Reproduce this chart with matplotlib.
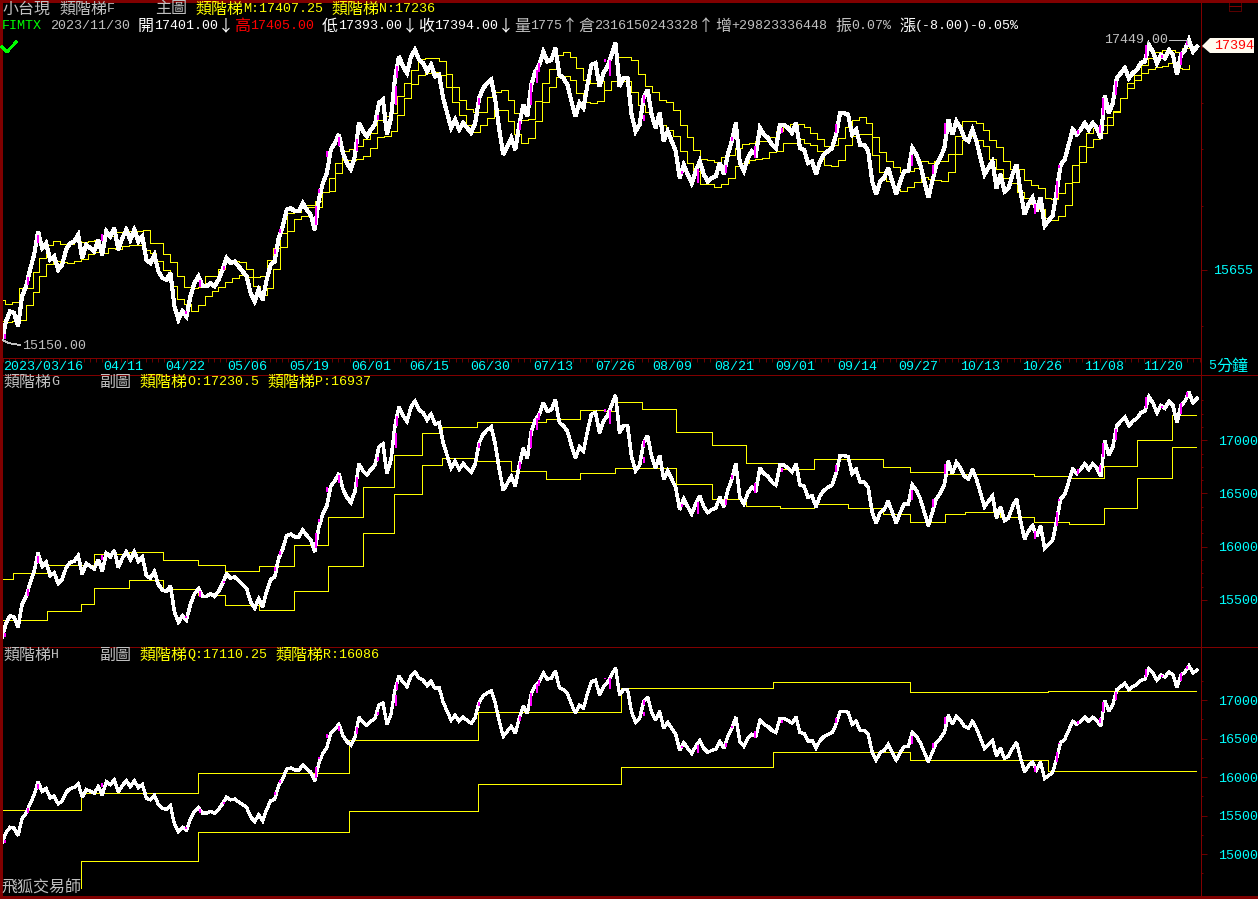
import numpy as np
from matplotlib import pyplot as plt
from matplotlib.lines import Line2D
from matplotlib.patches import Polygon, Rectangle
from matplotlib.ticker import NullLocator, FixedLocator, NullFormatter

W, H = 1258, 899
RED = '#800000'
CYAN = '#00FFFF'
YELLOW = '#FFFF00'
GRAY = '#C0C0C0'
WHITE = '#FFFFFF'

price = [
	15145, 15278, 15350, 15338, 15242, 15459, 15533, 15655, 15766, 15940, 15816, 15853, 15729, 15754, 15655, 15692,
	15804, 15853, 15865, 15915, 15741, 15841, 15816, 15791, 15878, 15766, 15940, 15903, 15965, 15804, 15891, 15953,
	15878, 15953, 15865, 15903, 15729, 15704, 15766, 15643, 15594, 15581, 15631, 15387, 15290, 15350, 15313, 15459,
	15557, 15606, 15533, 15533, 15557, 15533, 15581, 15655, 15741, 15704, 15716, 15680, 15643, 15606, 15483, 15423,
	15509, 15434, 15581, 15692, 15716, 15891, 15978, 16105, 16118, 16092, 16092, 16155, 16105, 16065, 15953, 16180,
	16307, 16384,
	16568, 16620, 16687, 16543, 16464, 16415, 16517, 16778, 16713, 16673, 16726, 16765, 16937, 16964, 16687, 16818,
	17137, 17313, 17232, 17178, 17313, 17367, 17286, 17259, 17191, 17245, 17151, 17165, 16977, 16857, 16739, 16804,
	16726, 16778, 16739, 16700, 16778, 16977, 17057, 17097, 17124, 16964, 16726, 16530, 16594, 16660, 16568, 16765,
	16924, 16831, 17084, 17191, 17245, 17353, 17272, 17286, 17381, 17165, 17137, 17084, 16950, 16831, 16937, 16897,
	17084, 17245, 17259, 17070, 17178, 17232, 17326, 17422, 17070, 17137, 17137,
	16844, 16713, 16765, 16977, 17043, 16844, 16739, 16857, 16635, 16713, 16635, 16557, 16348, 16450, 16376, 16309,
	16401, 16477, 16376, 16322, 16348, 16363, 16464, 16376, 16530, 16635, 16778, 16464, 16401, 16505, 16557, 16530,
	16739, 16687, 16660, 16607, 16580, 16765, 16765, 16739, 16700, 16778, 16580, 16568, 16464, 16477, 16376, 16477,
	16530, 16557, 16580, 16687, 16857, 16857, 16844, 16687, 16726, 16607, 16607, 16557, 16322, 16223, 16322, 16348,
	16428, 16322, 16223, 16322, 16401, 16401, 16580, 16530, 16450, 16322, 16197, 16322, 16450, 16505, 16580, 16804,
	16687, 16791, 16739, 16660, 16635, 16726, 16635, 16505, 16376, 16428, 16477, 16270, 16376, 16244, 16270, 16376,
	16450, 16244, 16071, 16148, 16197, 16097, 16197, 15983, 16022, 16059, 16244, 16450, 16490, 16607, 16726, 16687,
	16726, 16778, 16726, 16778, 16739, 16660, 16997, 16857, 16937, 17137, 17178, 17218, 17137, 17178, 17205, 17259,
	17272, 17408, 17353, 17259, 17326, 17300, 17367, 17326, 17165, 17326, 17367, 17449, 17353, 17394,
]

# up bars drawn in magenta
mag_bars = [5, 28, 38, 102, 186, 200, 224, 275, 280, 316, 319, 327, 339, 357, 378, 396, 397, 479, 520, 531, 537, 539,
	605, 610, 644, 644, 682, 698, 726, 732, 755, 782, 836, 912, 933, 945, 1035, 1057, 1059, 1078, 1100, 1103, 1116,
	1146, 1162, 1181, 1187]
mag_low = [15150, 15540, 15850, 15870, 15330, 15530, 15655, 15770, 15925, 15990, 16235, 16510, 16600, 16557, 16804,
	16924, 17137, 16924, 16726, 16924, 17097, 17190, 17270, 17151, 16937, 16790, 16376, 16309, 16389, 16635, 16505,
	16700, 16700, 16437, 16376, 16687, 16071, 16197, 16428, 16687, 16700, 16844, 17000, 17300, 17300, 17245, 17408]
mag_high = [15190, 15600, 15910, 15920, 15350, 15580, 15680, 15810, 15960, 16130, 16260, 16560, 16670, 16650, 16844,
	17070, 17232, 16977, 16791, 17097, 17205, 17259, 17290, 17285, 17000, 16844, 16401, 16415, 16450, 16670, 16594,
	16740, 16770, 16530, 16450, 16778, 16146, 16322, 16450, 16726, 16765, 16977, 17110, 17408, 17326, 17353, 17449]

# main chart ladders, one value per step
ladder_m = [
	15434, 15406, 15415, 15520, 15520, 15638, 15741, 15838, 15865, 15848, 15848, 15865, 15858, 15865, 15873, 15903,
	15908, 15933, 15933, 15940, 15940, 15948, 15853, 15853, 15774, 15709, 15606, 15528, 15520, 15528, 15606, 15606,
	15662, 15729, 15721, 15709, 15660, 15598, 15606, 15729, 15816, 15928, 16079, 16087, 16142, 16142, 16168, 16243,
	16348, 16464, 16557, 16572, 16594, 16654, 16700, 16804, 16836, 16857, 16991, 17097, 17205, 17295, 17300, 17300,
	17278, 17062, 17062, 16957, 16889, 16865, 16865, 16988, 17025, 17041, 16957, 16857, 16804, 16813, 16952, 17097,
	17212, 17326, 17348, 17308, 17218, 17124, 17097, 17110, 17043, 17110, 17308, 17308,
	17284, 17170, 17070, 17025, 16960, 16942, 16881, 16762, 16668, 16564, 16498, 16490, 16472, 16511, 16525, 16580,
	16615, 16620, 16635, 16635, 16668, 16718, 16751, 16770, 16770, 16746, 16700, 16652, 16594, 16604, 16657, 16746,
	16804, 16826, 16778, 16668, 16551, 16482, 16432, 16396, 16401, 16428, 16477, 16464, 16477, 16477, 16535,
	16673, 16791, 16796, 16778, 16723, 16642, 16591, 16482, 16415, 16415, 16330, 16296, 16270, 16197, 16184, 16232,
	16309, 16450, 16594, 16700, 16739, 16765, 16826, 16870, 16977, 17097, 17165, 17240, 17300, 17353, 17367, 17362,
	17353, 17381, 17402,
]
ladder_n = [
	15278, 15273, 15280, 15288, 15395, 15490, 15611, 15697, 15721, 15711, 15704, 15721, 15734, 15772, 15788, 15780,
	15819, 15809, 15829, 15838, 15838, 15798, 15780, 15716, 15655, 15533, 15439, 15406, 15352, 15395, 15459, 15501,
	15528, 15562, 15594, 15618, 15601, 15533, 15471, 15520, 15660, 15821, 15940, 16033, 16059, 16129, 16129, 16243,
	16246, 16389, 16490, 16490, 16495, 16522, 16580, 16668, 16673, 16718, 16844, 16977, 17089, 17165, 17178, 17186,
	17159, 17170, 16945, 16844, 16765, 16707, 16759, 16818, 16881, 16881, 16791, 16687, 16620, 16660, 16794, 16945,
	17067, 17145, 17151, 17124, 17017, 16942, 16937, 16952, 17043, 17110, 17110, 17110,
	17025, 16921, 16865, 16772, 16765, 16726, 16673, 16557, 16464, 16401, 16301, 16301, 16275, 16304, 16348, 16440,
	16464, 16490, 16498, 16503, 16551, 16557, 16620, 16620, 16654, 16620, 16607, 16557, 16445, 16437, 16487, 16604,
	16673, 16687, 16687, 16530, 16396, 16322, 16262, 16249, 16275, 16317, 16356, 16340, 16335, 16322, 16396,
	16535, 16644, 16673, 16647, 16594, 16495, 16415, 16348, 16309, 16240, 16192, 16150, 16112, 16041, 16027, 16057,
	16142, 16317, 16472, 16588, 16652, 16700, 16765, 16865, 16977, 17057, 17124, 17178, 17210, 17226, 17237, 17262,
	17218, 17210, 17240,
]

# sub chart G ladders
g_breaks = [2, 13, 47, 81, 94, 129, 163, 198, 225, 259, 294, 328, 363, 394, 422, 442, 477, 511, 546, 580, 604, 615,
	642, 676, 712, 746, 780, 814, 848, 883, 910, 945, 965, 1000, 1034, 1069, 1104, 1137, 1172, 1196]
ladder_o = [15695, 15751, 15827, 15827, 15931, 15950, 15874, 15827, 15770, 15817, 16016, 16280, 16563, 16865, 17072,
	17129, 17176, 17167, 17195, 17280, 17277, 17355, 17289, 17082, 16959, 16789, 16733, 16827, 16827, 16751, 16704,
	16685, 16685, 16685, 16667, 16648, 16761, 17006, 17233, 17233]
ladder_p = [15308, 15308, 15393, 15459, 15616, 15685, 15600, 15544, 15449, 15402, 15581, 15817, 16129, 16494, 16770,
	16836, 16808, 16714, 16638, 16695, 16695, 16735, 16742, 16591, 16450, 16383, 16365, 16402, 16365, 16308, 16232,
	16308, 16327, 16280, 16232, 16214, 16365, 16648, 16940, 16940]

# sub chart H ladders
q_breaks = [2, 81, 198, 349, 478, 621, 773, 910, 1048, 1196]
ladder_q = [15573, 15795, 16056, 16487, 16852, 17152, 17230, 17100, 17113, 17113]
r_breaks = [81, 81, 198, 349, 478, 621, 773, 910, 1048, 1196]
ladder_r = [14564, 14908, 15286, 15560, 15912, 16130, 16326, 16226, 16078, 16078]

date_bars = [3, 103, 165, 227, 289, 351, 409, 470, 533, 595, 652, 714, 775, 837, 898, 960, 1022, 1084, 1143]
date_labels = ['2023/03/16', '04/11', '04/22', '05/06', '05/19', '06/01', '06/15', '06/30', '07/13', '07/26', '08/09',
	'08/21', '09/01', '09/14', '09/27', '10/13', '10/26', '11/08', '11/20']

main_major = [15655]
main_minor = [15243, 16136, 16571, 16939, 17392]
g_major = [15500, 16000, 16500, 17000]
g_minor = [15625, 15750, 15875, 16125, 16250, 16375, 16625, 16750, 16875, 17125, 17250, 17375]
h_major = [15000, 15500, 16000, 16500, 17000]
h_minor = [14750, 15250, 15750, 16250, 16750, 17250]


def add_axes(fig, top, bottom):
	ax = fig.add_axes([1 / W, 1 - bottom / H, 1200 / W, (bottom - top) / H])
	ax.set_facecolor('black')
	ax.patch.set_alpha(0)
	for s in ax.spines.values():
		s.set_visible(False)
	ax.set_xlim(1, 1201)
	ax.xaxis.set_major_locator(NullLocator())
	return ax


def draw_prices(ax, x, lw):
	ax.plot(x, price, color=WHITE, lw=lw, solid_joinstyle='miter', antialiased=False)
	ax.vlines(mag_bars, mag_low, mag_high, color='#FF00FF', lw=1.3, antialiased=False)


def draw_ladder(ax, x, y):
	ax.step(x, y, where='post', color=YELLOW, lw=0.5, antialiased=False)


def set_ticks(ax, major, minor, pad):
	ax.yaxis.tick_right()
	ax.yaxis.set_major_locator(FixedLocator(major))
	ax.yaxis.set_minor_locator(FixedLocator(minor))
	ax.yaxis.set_major_formatter(plt.FixedFormatter([str(v) for v in major]))
	ax.yaxis.set_minor_formatter(NullFormatter())
	ax.tick_params(axis='y', which='major', length=4, width=0.6, color=RED, labelcolor=CYAN, pad=pad, labelsize=LATIN)
	ax.tick_params(axis='y', which='minor', length=1.2, width=0.6, color=RED)
	for lab in ax.get_yticklabels():
		lab.set_family(MONO)


LATIN = 9.6
CJK = 11.5
MONO = ['Liberation Mono', 'DejaVu Sans Mono']
HAN = ['Noto Sans CJK TC', 'DejaVu Sans']


def put(fig, x, y, s, color):
	# 8 px per latin char, 16 px per full width char, like the bitmap font of the original
	run = ''
	wide = None
	start = x
	for ch in s + '\0':
		w = ord(ch) > 0x2000
		if ch == '\0' or (wide is not None and w != wide):
			fig.text(start / W, 1 - y / H, run, color=color, va='center', ha='left',
				family=HAN if wide else MONO, fontsize=CJK if wide else LATIN)
			start += len(run) * (16 if wide else 8)
			run = ''
		run += ch
		wide = w


def frame(fig, xs, ys, color=RED, lw=0.6):
	fig.add_artist(Line2D([v / W for v in xs], [1 - v / H for v in ys], color=color, lw=lw, antialiased=False))


if __name__ == "__main__":
	plt.rcParams['axes.unicode_minus'] = False
	fig = plt.figure(figsize=(W / 100, H / 100), dpi=100, facecolor='black')

	bars = np.linspace(2, 1197, len(price))
	step_w = (1196 - 5) / (len(ladder_m) - 1)
	step_x = [0] + [5 + i * step_w for i in range(len(ladder_m) - 1)]

	ax1 = add_axes(fig, 2, 357)
	ax1.set_yscale('log')
	ax1.set_ylim(15023, 17764)
	draw_ladder(ax1, step_x, ladder_m)
	draw_ladder(ax1, step_x, ladder_n)
	draw_prices(ax1, bars, 2.2)
	set_ticks(ax1, main_major, main_minor, 5)

	ax2 = add_axes(fig, 375, 647)
	ax2.set_ylim(15057, 17613)
	draw_ladder(ax2, g_breaks, ladder_o)
	draw_ladder(ax2, g_breaks, ladder_p)
	draw_prices(ax2, bars, 1.8)
	set_ticks(ax2, g_major, g_minor, 8)

	ax3 = add_axes(fig, 647, 897)
	ax3.set_ylim(14443, 17691)
	draw_ladder(ax3, q_breaks, ladder_q)
	draw_ladder(ax3, r_breaks, ladder_r)
	draw_prices(ax3, bars, 1.6)
	set_ticks(ax3, h_major, h_minor, 8)

	# date band between main and sub charts
	band = add_axes(fig, 358, 374)
	band.set_ylim(0, 1)
	band.yaxis.set_major_locator(NullLocator())
	band.xaxis.set_minor_locator(FixedLocator(np.arange(3, 1201, 6.2)))
	band.tick_params(axis='x', which='minor', top=True, bottom=False, direction='in', length=3, width=0.6, color=RED)
	for b, lab in zip(date_bars, date_labels):
		band.text(b, 0.42, lab, color=CYAN, family=MONO, fontsize=LATIN, ha='left', va='center')

	# frame
	frame(fig, [0, W], [0.5, 0.5], lw=1.0)
	frame(fig, [0.5, 0.5], [0, 897], lw=1.0)
	frame(fig, [1201, 1201], [0, 897])
	frame(fig, [0, 1201], [357.5, 357.5])
	frame(fig, [0, W], [374.5, 374.5])
	frame(fig, [0, W], [647, 647])
	frame(fig, [0, W], [897, 897], lw=1.0)

	# header text
	put(fig, 3, 9, '小台現 類階梯F', GRAY)
	put(fig, 155, 9, '主圖', GRAY)
	put(fig, 195, 9, '類階梯M:17407.25', YELLOW)
	put(fig, 331, 9, '類階梯N:17236', YELLOW)
	put(fig, 2, 26, 'FIMTX', '#00FF00')
	put(fig, 50, 26, '2023/11/30', GRAY)
	put(fig, 138, 26, '開17401.00↓', WHITE)
	put(fig, 234, 26, '高17405.00', '#FF0000')
	put(fig, 322, 26, '低17393.00↓', WHITE)
	put(fig, 418, 26, '收17394.00↓', WHITE)
	put(fig, 514, 26, '量1775↑', GRAY)
	put(fig, 578, 26, '倉2316150243328↑', GRAY)
	put(fig, 715, 26, '增+29823336448', GRAY)
	put(fig, 835, 26, '振0.07%', GRAY)
	put(fig, 899, 26, '漲(-8.00)-0.05%', WHITE)

	put(fig, 3, 382, '類階梯G', GRAY)
	put(fig, 99, 382, '副圖', GRAY)
	put(fig, 139, 382, '類階梯O:17230.5', YELLOW)
	put(fig, 267, 382, '類階梯P:16937', YELLOW)

	put(fig, 3, 655, '類階梯H', GRAY)
	put(fig, 99, 655, '副圖', GRAY)
	put(fig, 139, 655, '類階梯Q:17110.25', YELLOW)
	put(fig, 275, 655, '類階梯R:16086', YELLOW)

	put(fig, 2, 888, '飛狐交易師', GRAY)
	put(fig, 1208, 366, '5分鐘', CYAN)

	# high / low markers
	put(fig, 1104, 40, '17449.00', GRAY)
	frame(fig, [1169, 1187, 1187], [40, 40, 43], color=GRAY, lw=0.5)
	put(fig, 22, 346, '15150.00', GRAY)
	frame(fig, [3, 8, 20], [340, 343, 345], color=GRAY, lw=0.5)

	# last price tag
	tag = [(1202, 46), (1210, 38), (1254, 38), (1254, 53), (1210, 53)]
	fig.add_artist(Polygon([(x / W, 1 - y / H) for x, y in tag], closed=True, facecolor='#FFFBF0', edgecolor='none',
		transform=fig.transFigure))
	fig.text(1214 / W, 1 - 46 / H, '17394', color='#FF0000', family=MONO, fontsize=LATIN, va='center', ha='left')

	# check mark and window icon
	frame(fig, [2, 7, 16], [47, 52, 42], color='#00FF00', lw=1.2)
	fig.add_artist(Rectangle((1229 / W, 1 - 11 / H), 12 / W, 10 / H, fill=False, edgecolor=RED, lw=0.5,
		transform=fig.transFigure))
	frame(fig, [1229, 1241], [6, 6], lw=0.5)

	fig.savefig('out.png', dpi=100, facecolor='black')
